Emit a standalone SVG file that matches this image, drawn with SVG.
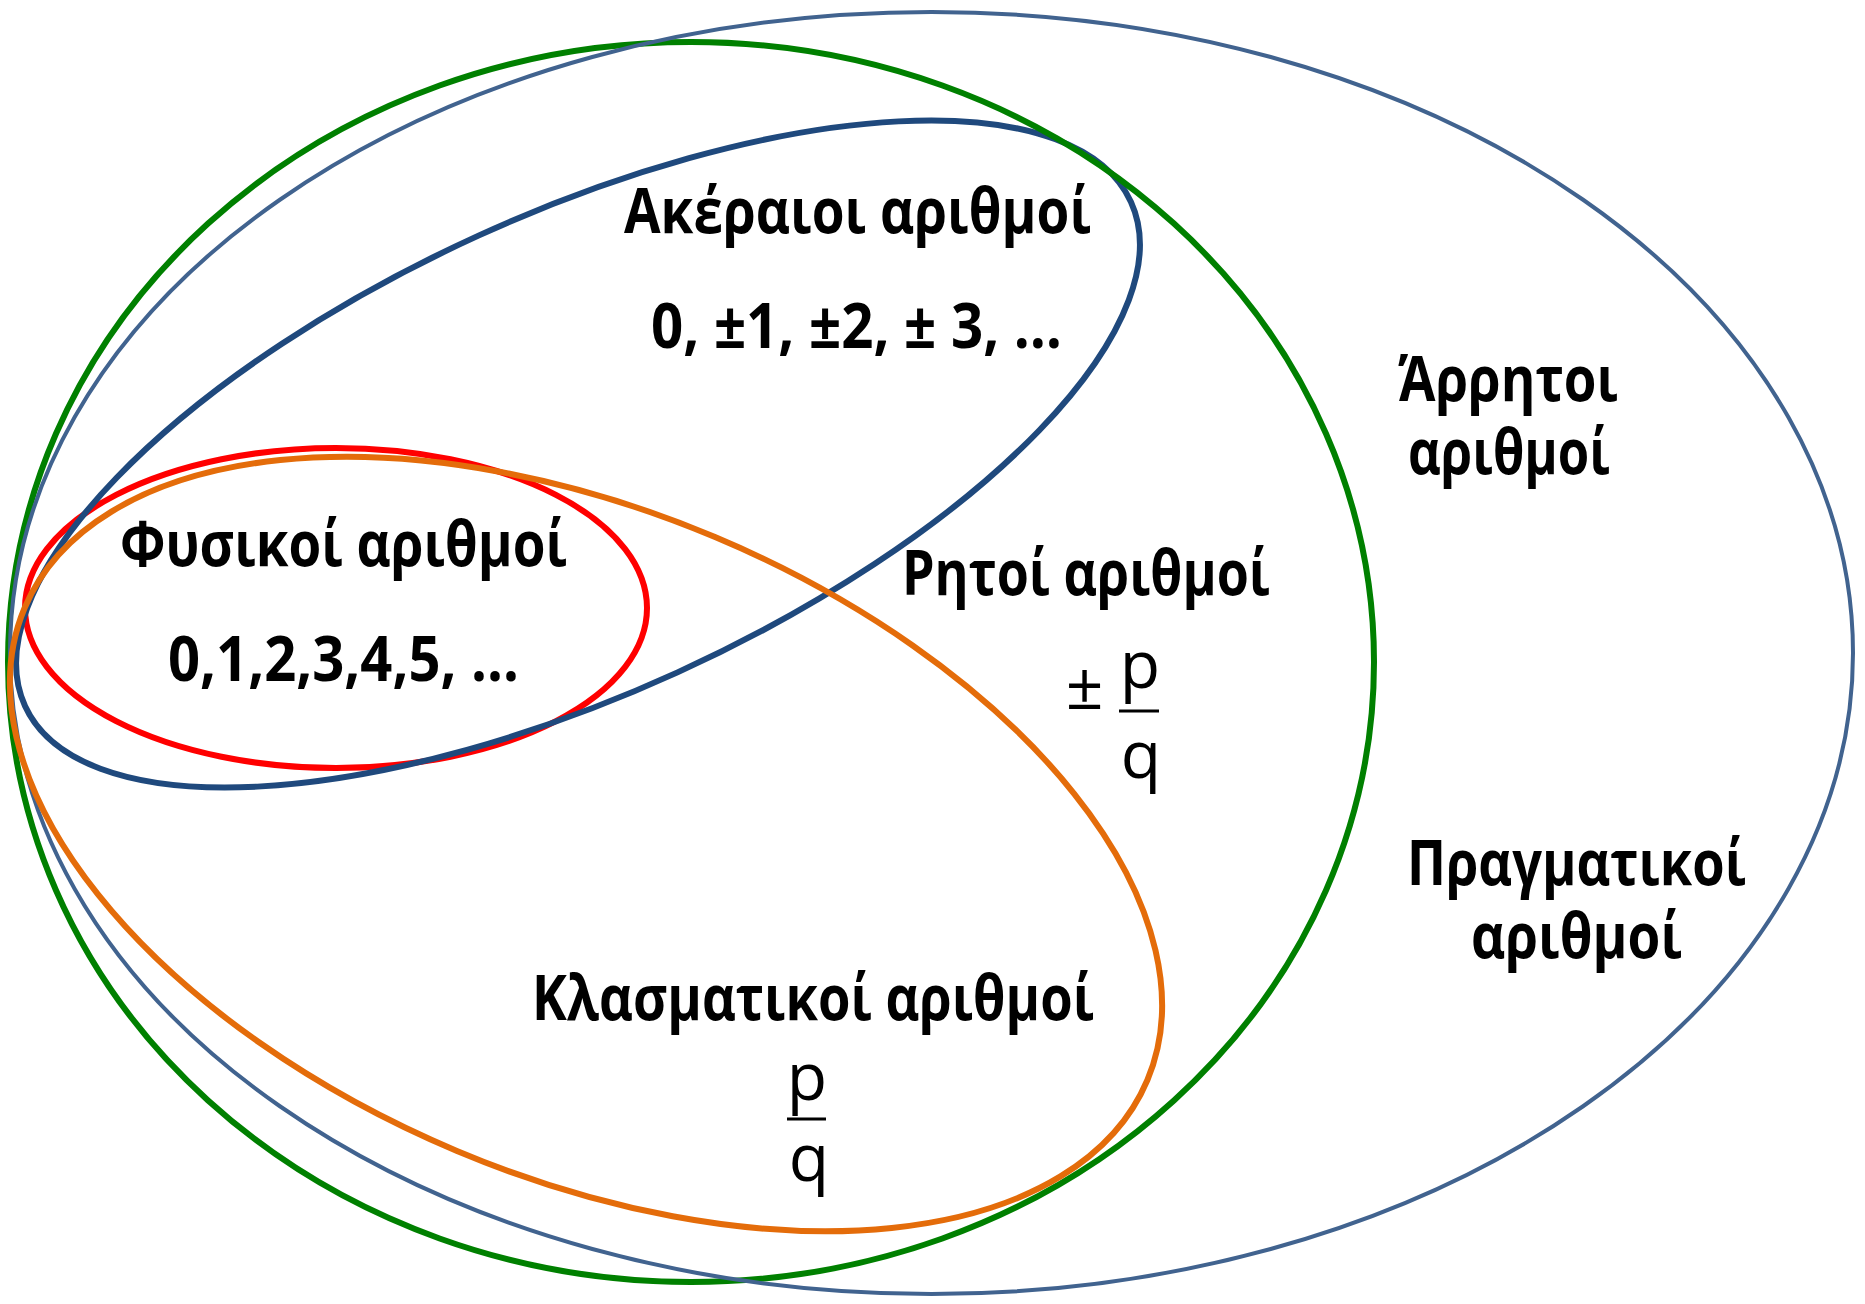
<svg xmlns="http://www.w3.org/2000/svg" width="1865" height="1304" viewBox="0 0 1865 1304">
<style>
.set{fill:none}
.lbl{font-family:"Open Sans","Noto Sans","DejaVu Sans",sans-serif;font-weight:700;font-size:63px;fill:#000}
.frac{font-family:"Open Sans","Noto Sans","DejaVu Sans",sans-serif;font-weight:400;font-size:66px;fill:#000;text-anchor:middle}
.bar{stroke:#000;stroke-width:3}
</style>
<rect width="1865" height="1304" fill="#fff"/>
<g id="sets">
  <g id="natural"><ellipse class="set" cx="336" cy="608" rx="311" ry="160" stroke="#ff0000" stroke-width="6"/></g>
  <g id="integers"><ellipse class="set" cx="0" cy="0" rx="607.7" ry="240" transform="translate(578 454) rotate(-24.5)" stroke="#1f497d" stroke-width="6"/></g>
  <g id="rationals"><ellipse class="set" cx="691" cy="662" rx="683" ry="620" stroke="#008000" stroke-width="6"/></g>
  <g id="reals"><ellipse class="set" cx="931.5" cy="653" rx="921.5" ry="641" stroke="#41638f" stroke-width="4"/></g>
  <g id="fractions"><ellipse class="set" cx="0" cy="0" rx="609" ry="333" transform="translate(586 844) rotate(22.8)" stroke="#e46c0a" stroke-width="6"/></g>
</g>
<g id="connectors"/>
<g id="label-integers">
  <text class="lbl" x="624" y="233" textLength="467" lengthAdjust="spacingAndGlyphs">Ακέραιοι αριθμοί</text>
  <text class="lbl" x="651" y="348" textLength="411" lengthAdjust="spacingAndGlyphs">0, ±1, ±2, ± 3, …</text>
</g>
<g id="label-natural">
  <text class="lbl" x="120" y="566" textLength="447" lengthAdjust="spacingAndGlyphs">Φυσικοί αριθμοί</text>
  <text class="lbl" x="168" y="681" textLength="351" lengthAdjust="spacingAndGlyphs">0,1,2,3,4,5, …</text>
</g>
<g id="label-rationals">
  <text class="lbl" x="902" y="595" textLength="368" lengthAdjust="spacingAndGlyphs">Ρητοί αριθμοί</text>
  <text class="frac" x="1084.5" y="709" font-size="62">±</text>
  <text class="frac" x="1140" y="688">p</text>
  <line class="bar" x1="1119" y1="711" x2="1159" y2="711"/>
  <text class="frac" x="1141" y="778">q</text>
</g>
<g id="label-irrationals">
  <text class="lbl" x="1398" y="401" textLength="220" lengthAdjust="spacingAndGlyphs">Άρρητοι</text>
  <text class="lbl" x="1408" y="474" textLength="202" lengthAdjust="spacingAndGlyphs">αριθμοί</text>
</g>
<g id="label-reals">
  <text class="lbl" x="1407" y="885" textLength="339" lengthAdjust="spacingAndGlyphs">Πραγματικοί</text>
  <text class="lbl" x="1471" y="958" textLength="211" lengthAdjust="spacingAndGlyphs">αριθμοί</text>
</g>
<g id="label-fractions">
  <text class="lbl" x="532" y="1020" textLength="562" lengthAdjust="spacingAndGlyphs">Κλασματικοί αριθμοί</text>
  <text class="frac" x="807" y="1100">p</text>
  <line class="bar" x1="787" y1="1119" x2="826" y2="1119"/>
  <text class="frac" x="809" y="1181">q</text>
</g>
</svg>
